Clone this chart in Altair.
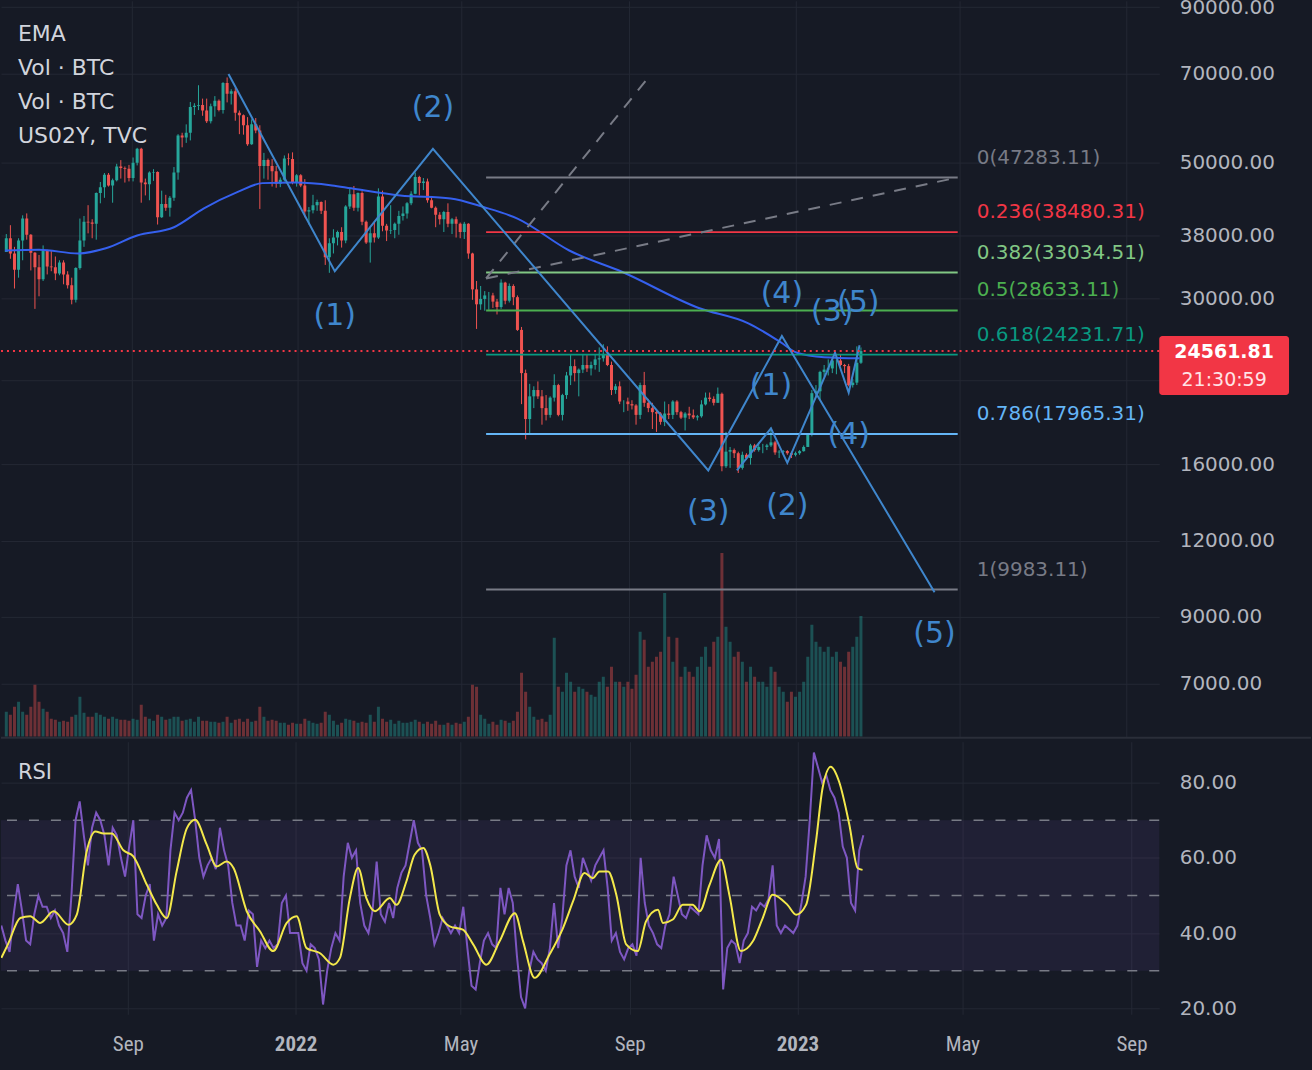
import altair as alt
import numpy as np
import pandas as pd

# ---------------- data ----------------
candle_start = "2021-06-01"      # centre of the first 3-day candle
candle_step_days = 3
first_open = 35.7                # thousand USD

closes = [37.6,35.5,33.4,37.3,40.5,38.1,35.6,33.7,32.2,35.9,
          33.8,33.7,32.9,34.3,32.8,31.5,29.8,33.6,37.3,40.0,
          39.9,39.7,44.6,45.6,47.8,45.9,46.8,49.3,49.0,48.9,
          47.2,50.0,52.7,46.4,46.1,48.2,48.3,40.7,42.8,42.2,
          43.8,48.2,55.4,55.0,56.0,61.7,62.0,62.2,60.9,58.5,
          61.9,63.2,61.0,67.6,64.9,65.5,60.4,59.8,57.6,53.6,
          57.8,56.5,49.4,50.5,49.4,48.4,46.2,46.9,50.8,50.7,
          46.5,47.7,45.9,41.6,41.8,42.6,43.1,41.7,35.0,36.9,
          37.7,38.5,37.3,42.4,44.4,42.2,44.6,40.0,37.0,38.3,
          37.7,44.0,39.4,38.7,38.8,39.7,40.9,41.3,42.9,44.5,
          47.4,46.3,46.6,43.4,42.2,41.1,40.4,41.5,39.7,40.4,
          39.7,38.5,39.7,35.5,31.0,29.3,29.9,30.3,30.3,29.6,
          29.0,31.8,29.7,31.4,30.1,26.6,22.6,19.0,20.7,21.2,
          20.7,19.8,19.3,20.6,21.6,19.3,20.8,22.4,23.2,22.6,
          22.9,23.3,23.0,23.3,23.8,23.9,24.3,23.3,21.2,21.5,
          20.3,20.3,20.1,20.0,19.3,21.6,20.2,19.8,19.5,19.4,
          18.8,19.4,19.3,20.3,19.5,19.1,19.4,19.27,19.12,19.2,
          20.08,20.6,20.5,20.2,20.9,15.9,16.8,16.9,16.7,15.8,
          16.6,16.4,17.2,16.9,17.1,17.1,17.2,17.4,16.75,16.8,
          16.84,16.7,16.6,16.7,16.83,17.1,17.9,20.95,21.1,22.7,
          22.9,23.0,23.7,23.7,23.3,23.2,21.6,21.8,23.5,24.56]

highs = [38.2,39.5,36.4,37.6,41.0,41.3,38.2,35.7,35.3,36.6,
         36.0,35.9,35.1,34.6,34.6,33.2,32.4,33.7,40.5,40.9,
         42.6,40.4,44.7,46.5,48.1,48.1,47.1,49.8,50.5,49.3,
         49.6,51.0,52.9,52.9,47.1,48.4,48.8,48.4,45.0,44.3,
         44.1,49.2,55.7,56.0,57.8,62.9,62.6,67.0,63.7,63.7,
         62.5,64.3,63.5,67.8,69.0,66.0,66.3,60.9,60.0,59.4,
         58.9,59.2,57.6,51.9,50.8,50.7,49.4,47.3,51.4,51.8,
         52.0,47.9,47.9,47.0,42.3,44.3,43.5,43.2,43.4,37.6,
         38.9,38.7,39.2,42.6,45.5,45.8,44.7,44.9,40.2,39.2,
         40.0,45.4,45.0,39.7,42.6,39.9,41.7,42.4,43.1,44.9,
         48.2,47.6,47.2,47.1,43.9,42.4,41.5,41.7,42.9,40.6,
         40.8,39.9,40.0,39.8,35.6,32.0,31.4,30.8,30.7,30.6,
         29.9,32.2,31.9,31.7,31.6,30.3,26.9,22.9,21.7,21.5,
         21.9,21.2,20.8,20.7,22.5,21.7,20.9,22.7,24.2,23.8,
         23.0,24.2,24.2,23.6,24.2,24.9,25.2,25.0,23.6,21.7,
         21.9,20.4,20.6,20.4,20.1,21.8,22.7,20.5,20.2,19.6,
         19.5,20.3,20.1,20.4,20.4,19.6,19.5,19.9,19.7,19.3,
         20.4,21.0,21.0,20.7,21.4,21.0,18.1,17.1,17.0,16.8,
         16.8,16.7,17.3,17.3,17.4,17.3,17.3,18.4,17.5,16.9,
         16.9,16.9,16.8,16.8,16.9,17.2,18.0,21.2,21.6,22.8,
         23.3,23.8,23.9,23.8,24.2,23.4,23.4,22.1,25.0,24.9]

lows = [35.7,34.8,31.1,32.4,34.6,37.4,33.3,28.8,30.2,32.0,
        32.8,33.2,32.1,32.7,31.6,31.1,29.3,29.5,33.4,36.4,
        38.3,37.6,37.4,42.9,43.8,45.7,43.0,46.6,47.1,46.4,
        46.6,46.6,49.5,43.0,44.2,43.4,46.7,39.6,40.6,41.7,
        40.8,43.3,46.9,53.0,53.9,54.4,59.9,61.0,59.7,58.1,
        58.0,59.5,60.7,60.2,62.8,62.3,58.6,55.7,55.6,53.3,
        53.5,55.9,42.0,47.1,46.9,45.7,45.5,45.6,46.6,49.5,
        46.1,45.7,45.6,40.7,39.6,41.3,41.7,41.2,34.0,33.0,
        35.5,36.6,36.3,36.9,42.0,41.7,41.6,39.5,36.8,34.3,
        37.0,37.5,38.6,37.2,38.2,37.6,38.1,40.2,40.5,42.6,
        44.4,44.2,45.1,43.0,42.1,39.2,39.6,38.5,39.2,38.2,
        37.7,37.6,37.5,34.8,29.8,26.7,28.7,28.6,28.7,28.9,
        28.2,28.8,29.3,29.5,29.2,26.5,20.1,17.6,17.9,19.8,
        20.5,18.6,18.9,19.1,20.3,19.2,18.9,20.5,21.6,21.9,
        20.7,22.6,22.7,22.4,22.9,22.7,23.6,23.2,20.8,20.9,
        20.1,19.5,19.6,19.7,18.6,19.0,19.9,19.5,18.3,18.1,
        18.6,18.5,19.0,19.0,19.3,19.0,18.2,19.0,19.0,18.9,
        19.1,20.0,20.3,20.0,20.2,15.6,15.8,15.8,16.4,15.5,
        15.7,16.3,16.0,16.8,16.8,16.7,16.9,17.1,16.6,16.4,
        16.6,16.6,16.4,16.5,16.6,16.8,17.1,17.8,20.6,20.4,
        22.3,22.4,22.6,22.5,23.2,22.6,21.5,21.4,21.6,23.4]

volumes = [125,110,150,175,125,110,150,260,175,140,
           125,90,85,75,80,75,100,110,200,120,
           100,100,120,110,100,90,100,90,85,85,
           80,90,85,160,100,90,80,110,100,85,
           90,100,100,80,85,90,75,100,80,80,
           75,75,70,75,100,70,85,90,75,90,
           75,80,150,100,80,85,80,70,70,60,
           70,65,65,90,80,70,65,70,125,110,
           80,60,70,90,85,80,70,75,70,110,
           75,150,90,75,85,65,80,70,70,75,
           85,75,65,75,65,80,60,60,70,60,
           70,65,75,100,260,250,110,90,65,75,
           60,85,80,70,80,125,320,225,150,100,
           85,90,75,110,495,250,225,320,275,225,
           250,240,225,210,200,275,300,250,350,275,
           275,250,275,240,310,525,485,350,375,400,
           425,720,500,375,495,300,350,325,300,350,
           400,450,350,475,500,920,550,475,400,425,
           375,275,350,300,275,275,250,350,325,250,
           225,175,225,200,225,275,400,560,475,450,
           425,450,400,425,375,350,425,450,500,605]

rsi_vals = [42,38,35,45,53,46,38,37,45,50,
            47,47,44,46,42,40,35,50,70,75,
            66,58,68,72,70,66,58,68,66,60,
            55,63,70,45,44,50,53,38,45,42,
            44,62,72,70,72,76,78,70,60,55,
            58,60,57,68,62,58,48,42,42,38,
            46,45,31,38,36,38,36,37,48,50,
            40,40,40,32,30,37,36,33,21,30,
            36,40,38,55,64,60,62,48,42,40,
            46,59,45,43,48,44,52,56,58,64,
            70,64,62,50,44,37,40,44,42,40,
            42,40,47,36,26,25,32,38,40,37,
            36,52,45,52,48,34,23,20,30,35,
            33,32,30,36,48,36,44,58,62,55,
            52,60,57,54,58,60,62,52,38,40,
            35,33,36,37,34,60,48,42,40,37,
            36,42,45,55,50,45,44,47,46,45,
            58,66,62,60,65,25,36,38,37,32,
            38,40,47,46,48,47,49,58,42,40,
            42,41,40,42,48,55,70,88,84,80,
            82,78,76,72,63,60,48,46,62,66]

# RSI moving average, read at candle positions (fractional candle index)
rsi_ma_idx = [0,1.6,4.6,7,9.4,12.7,16.3,18.3,20.7,22.8,24.8,26.8,29.6,32,35.3,
              37.7,40.1,42.5,45,47,49.8,52.2,54.6,56.3,59.5,62.7,65.9,69.2,71.6,74,
              77.2,80.5,82.1,84.5,86.5,88.5,90.6,94.2,95.8,98.2,100.2,102.3,104,106.3,108.7,
              111.9,114.4,117.6,120.8,124.5,126.5,129.3,132.9,136.2,138.6,141.4,143.4,145,147.1,149.1,
              151.5,154.3,156.3,159.2,160.4,162.8,165.2,167.6,169.3,171.7,174.5,176.5,179.3,182.2,184.6,
              187,190.6,192.7,195.1,197.5,199.1,201.1,203.1,205.6,207.6,208.8]
rsi_ma_vals = [33.4,37,44,44.5,42.7,45.8,42.2,44.9,61.7,67,66.5,66.5,62,60.4,52.8,
               47.5,44,56.4,67.9,70.1,63.5,57.7,59,57.3,45.8,40.5,35.2,42.7,44.5,36,
               34.7,31.6,33.4,49.3,57.3,49.3,45.8,49.3,47.5,53.7,60.8,62.6,58,44.9,41.8,
               40.9,37,31.6,37.8,45.3,37.8,28.1,34.3,41.4,48.4,56,54.6,56.4,56.4,50.2,
               37,35.2,43.1,46.2,42.7,43.6,47.5,47.5,45.8,52.8,59.5,50.2,35.2,37.8,44,
               50.2,47.5,44.9,47.5,64.3,78.5,84.2,80.3,68.8,57.3,56.8]

ema_dates = ["2021-05-31","2021-06-25","2021-07-24","2021-08-13","2021-09-05","2021-10-02",
             "2021-10-24","2021-11-17","2021-12-06","2021-12-30","2022-01-26","2022-02-09",
             "2022-03-17","2022-04-23","2022-05-17","2022-06-11","2022-07-19","2022-08-27",
             "2022-10-22","2022-11-27","2022-12-21","2023-01-02","2023-01-22","2023-02-17"]
ema_vals = [35.9,36.0,35.5,36.2,38.0,39.2,42.1,44.7,46.3,46.4,45.9,45.4,
            44.2,43.7,42.3,40.5,35.9,33.1,28.9,27.3,25.4,24.4,24.0,23.9]

fib_levels = ["0", "0.236", "0.382", "0.5", "0.618", "0.786", "1"]
fib_prices = [47283.11, 38480.31, 33034.51, 28633.11, 24231.71, 17965.31, 9983.11]
fib_span = ["2022-05-19", "2023-04-30"]
fib_label_date = "2023-05-14"

wave_big_dates = ["2021-11-11","2022-01-28","2022-04-10","2022-10-29","2022-12-22","2023-04-13"]
wave_big_prices = [69.9, 33.2, 52.7, 15.65, 26.0, 9.88]
wave_small_dates = ["2022-11-19","2022-12-14","2022-12-26","2023-01-30","2023-02-09","2023-02-17"]
wave_small_prices = [15.65, 18.35, 16.1, 24.4, 21.0, 25.1]

wave_label_text = ["(2)","(1)","(3)","(4)","(5)","(1)","(2)","(3)","(4)","(5)"]
wave_label_dates = ["2022-04-10","2022-01-28","2022-10-29","2022-12-22","2023-04-13",
                    "2022-12-14","2022-12-26","2023-01-28","2023-02-09","2023-02-16"]
wave_label_prices = [61.5, 28.0, 13.4, 30.5, 8.44, 21.5, 13.7, 28.5, 17.9, 29.5]

fan_dates = ["2022-05-19","2022-09-16","2022-05-19","2023-04-30"]
fan_prices = [32.3, 69.4, 32.3, 47.3]
fan_lines = ["steep","steep","flat","flat"]

last_price = 24561.81
countdown = "21:30:59"
legend_lines = ["EMA", "Vol · BTC", "Vol · BTC", "US02Y, TVC"]
price_ticks = [7000, 9000, 12000, 16000, 22000, 30000, 38000, 50000, 70000, 90000]
rsi_ticks = [20, 40, 60, 80]
rsi_levels = [30, 50, 70]
x_ticks = [(2021, 9, 1), (2022, 1, 1), (2022, 5, 1), (2022, 9, 1),
           (2023, 1, 1), (2023, 5, 1), (2023, 9, 1)]

# ---------------- styles ----------------
BG = "#161a25"
GRID = "#242834"
LBL = "#b2b5be"
LEG = "#d1d4dc"
UP, DOWN = "#26a69a", "#ef5350"
RED = "#f23645"
EMA_C = "#3560ee"
WAVE_C = "#3f86cc"
FIB_COLORS = ["#787b86", "#f23645", "#81c784", "#4caf50", "#089981", "#64b5f6", "#787b86"]
FONT = "DejaVu Sans"
XFONT = "Liberation Sans Narrow, Roboto Condensed, DejaVu Sans Condensed, Roboto"

# ---------------- tables ----------------
n = len(closes)
assert all(len(a) == n for a in [highs, lows, volumes, rsi_vals])
assert len(rsi_ma_idx) == len(rsi_ma_vals)
dates = pd.date_range(candle_start, periods=n, freq=f"{candle_step_days}D")
opens = [first_open] + closes[:-1]
candles = pd.DataFrame({
    "date": dates.strftime("%Y-%m-%dT%H:%M:%SZ"),
    "open": np.array(opens) * 1000,
    "close": np.array(closes) * 1000,
    "high": np.array(highs) * 1000,
    "low": np.array(lows) * 1000,
    "vol": volumes,
    "rsi": rsi_vals,
})
candles["color"] = np.where(candles["close"] >= candles["open"], UP, DOWN)

ma_dates = pd.Timestamp(candle_start) + pd.to_timedelta(np.array(rsi_ma_idx) * candle_step_days, unit="D")
ma_df = pd.DataFrame({"date": ma_dates.strftime("%Y-%m-%dT%H:%M:%SZ"), "ma": rsi_ma_vals})

ema_df = pd.DataFrame({"date": ema_dates, "ema": np.array(ema_vals) * 1000})

fib = pd.DataFrame({"level": fib_levels, "price": fib_prices, "color": FIB_COLORS})
fib["label"] = fib["level"] + "(" + fib["price"].map(lambda v: f"{v:.2f}") + ")"
fib["x0"] = fib_span[0]
fib["x1"] = fib_span[1]
fib["xl"] = fib_label_date

waves = pd.DataFrame({
    "date": wave_big_dates + wave_small_dates,
    "price": np.array(wave_big_prices + wave_small_prices) * 1000,
    "wave": ["big"] * len(wave_big_dates) + ["small"] * len(wave_small_dates),
    "ord": list(range(len(wave_big_dates))) + list(range(len(wave_small_dates))),
})
wlab = pd.DataFrame({"text": wave_label_text, "date": wave_label_dates,
                     "price": np.array(wave_label_prices) * 1000})
fan = pd.DataFrame({"date": fan_dates, "price": np.array(fan_prices) * 1000,
                    "line": fan_lines, "ord": [0, 1, 0, 1]})
cur = pd.DataFrame({"p": [last_price], "t": [f"{last_price:.2f}"], "c": [countdown]})


# ---------------- scales / axes ----------------
def dt(y, m, d, h=0, mi=0):
    return alt.DateTime(year=y, month=m, date=d, hours=h, minutes=mi, utc=True)


X_DOMAIN = [dt(2021, 5, 31, 18, 30), dt(2023, 9, 21, 4, 20)]
xs = alt.Scale(type="utc", domain=X_DOMAIN, nice=False)
x_vals = [dt(*t) for t in x_ticks]
ax_top = alt.Axis(values=x_vals, labels=False, ticks=False, domain=False, grid=True,
                  gridColor=GRID, title=None)
ax_bot = alt.Axis(values=x_vals, grid=True, gridColor=GRID, ticks=False, domain=False, title=None,
                  labelExpr="utcmonth(datum.value) === 0 ? utcFormat(datum.value, '%Y') : utcFormat(datum.value, '%b')",
                  labelFontWeight={"condition": {"test": "utcmonth(datum.value) === 0", "value": "bold"},
                                   "value": "normal"},
                  labelColor=LBL, labelFont=XFONT, labelFontSize=21, labelPadding=19)

ys = alt.Scale(type="log", domain=[5727, 92150], nice=False)
ay = alt.Axis(orient="right", values=price_ticks, grid=True, gridColor=GRID, ticks=False, domain=False,
              title=None, labelExpr="datum.value == 22000 ? '' : format(datum.value, '.2f')",
              labelColor=LBL, labelFont=FONT, labelFontSize=20, labelPadding=20, labelOverlap=False)
vs = alt.Scale(domain=[0, 3685], nice=False)
yr = alt.Scale(domain=[18.41, 90.88], nice=False, zero=False)
ar = alt.Axis(orient="right", values=rsi_ticks, format=".2f", grid=True, gridColor=GRID, ticks=False,
              domain=False, title=None, labelColor=LBL, labelFont=FONT, labelFontSize=20, labelPadding=20)


def XT(f):
    return alt.X(f, type="temporal", scale=xs, axis=ax_top)


def XB(f):
    return alt.X(f, type="temporal", scale=xs, axis=ax_bot)


def YP(f):
    return alt.Y(f, type="quantitative", scale=ys, axis=ay)


def YR(f):
    return alt.Y(f, type="quantitative", scale=yr, axis=ar)


COL = alt.Color("color:N", scale=None)

# ---------------- price panel ----------------
vol = alt.Chart(candles).mark_bar(width=3, opacity=0.4, clip=True).encode(
    x=XT("date"), y=alt.Y("vol:Q", scale=vs, axis=None), color=COL)
wick = alt.Chart(candles).mark_rule(strokeWidth=1, clip=True).encode(
    x=XT("date"), y=YP("low"), y2=alt.Y2("high"), color=COL)
body = alt.Chart(candles).mark_bar(width=3, clip=True).encode(
    x=XT("date"), y=YP("open"), y2=alt.Y2("close"), color=COL)
ema = alt.Chart(ema_df).mark_line(color=EMA_C, strokeWidth=2, interpolate="monotone", clip=True).encode(
    x=XT("date"), y=YP("ema"))
fib_rules = alt.Chart(fib).mark_rule(strokeWidth=2).encode(
    x=XT("x0"), x2=alt.X2("x1"), y=YP("price"), color=COL)
fib_text = alt.Chart(fib).mark_text(align="left", baseline="middle", dy=-20, font=FONT, fontSize=20).encode(
    x=XT("xl"), y=YP("price"), text="label:N", color=COL)
fan_lines_c = alt.Chart(fan).mark_line(strokeDash=[12, 10], strokeWidth=2, color="#787b86").encode(
    x=XT("date"), y=YP("price"), detail="line:N", order="ord:Q")
wave_lines = alt.Chart(waves).mark_line(strokeWidth=2, color=WAVE_C).encode(
    x=XT("date"), y=YP("price"), detail="wave:N", order="ord:Q")
wave_text = alt.Chart(wlab).mark_text(font=FONT, fontSize=30, color=WAVE_C, baseline="middle").encode(
    x=XT("date"), y=YP("price"), text="text:N")
cur_line = alt.Chart(cur).mark_rule(color=RED, strokeDash=[2, 4], strokeWidth=2).encode(y=YP("p"))
cur_box = alt.Chart(cur).mark_rect(color=RED, cornerRadius=3, yOffset=-15, y2Offset=44).encode(
    x=alt.value(1160), x2=alt.value(1290), y=YP("p"), y2=alt.Y2("p"))
cur_t1 = alt.Chart(cur).mark_text(color="white", font=FONT, fontSize=19, fontWeight="bold",
                                  baseline="middle", dy=1).encode(x=alt.value(1225), y=YP("p"), text="t:N")
cur_t2 = alt.Chart(cur).mark_text(color="#ffe3e6", font=FONT, fontSize=19, baseline="middle",
                                  dy=29).encode(x=alt.value(1225), y=YP("p"), text="c:N")
legend = alt.Chart(pd.DataFrame({"t": ["\n".join(legend_lines)]})).mark_text(
    align="left", baseline="top", lineBreak="\n", lineHeight=34, font=FONT, fontSize=22, color=LEG).encode(
    x=alt.value(17), y=alt.value(23), text="t:N")
sep = alt.Chart(cur).mark_rule(color="#2a2e39", strokeWidth=2).encode(
    x=alt.value(0), x2=alt.value(1312), y=alt.value(738))

price_layers = alt.layer(wick, body, ema, fib_rules, fib_text, fan_lines_c, wave_lines, wave_text,
                         cur_line, cur_box, cur_t1, cur_t2, legend, sep)
top = alt.layer(vol, price_layers).resolve_scale(y="independent").properties(width=1160, height=737)

# ---------------- RSI panel ----------------
band_df = pd.DataFrame({"lo": [30], "hi": [70],
                        "a": ["2021-05-31T18:30:00Z"], "b": ["2023-09-21T04:20:00Z"]})
band = alt.Chart(band_df).mark_rect(color="#7e57c2", opacity=0.1).encode(
    x=XB("a"), x2=alt.X2("b"), y=YR("lo"), y2=alt.Y2("hi"))
rsi_rules = alt.Chart(pd.DataFrame({"lvl": rsi_levels})).mark_rule(
    strokeDash=[10, 12], color="#787b86", strokeWidth=1.5).encode(y=YR("lvl"))
rsi_line = alt.Chart(candles).mark_line(color="#7e57c2", strokeWidth=2, clip=True).encode(
    x=XB("date"), y=YR("rsi"))
ma_line = alt.Chart(ma_df).mark_line(color="#f3e84b", strokeWidth=2, interpolate="monotone", clip=True).encode(
    x=XB("date"), y=YR("ma"))
rsi_title = alt.Chart(pd.DataFrame({"t": ["RSI"]})).mark_text(
    align="left", baseline="middle", font=FONT, fontSize=21, color=LEG).encode(
    x=alt.value(17), y=alt.value(31), text="t:N")
bottom = alt.layer(band, rsi_rules, rsi_line, ma_line, rsi_title).properties(width=1160, height=273)

chart = alt.vconcat(top, bottom, spacing=3).properties(
    background=BG, padding={"left": 0, "right": 0, "top": -4, "bottom": 20}
).configure_view(strokeWidth=0)

chart.save("out.html", embed_options={"renderer": "svg", "actions": False})
